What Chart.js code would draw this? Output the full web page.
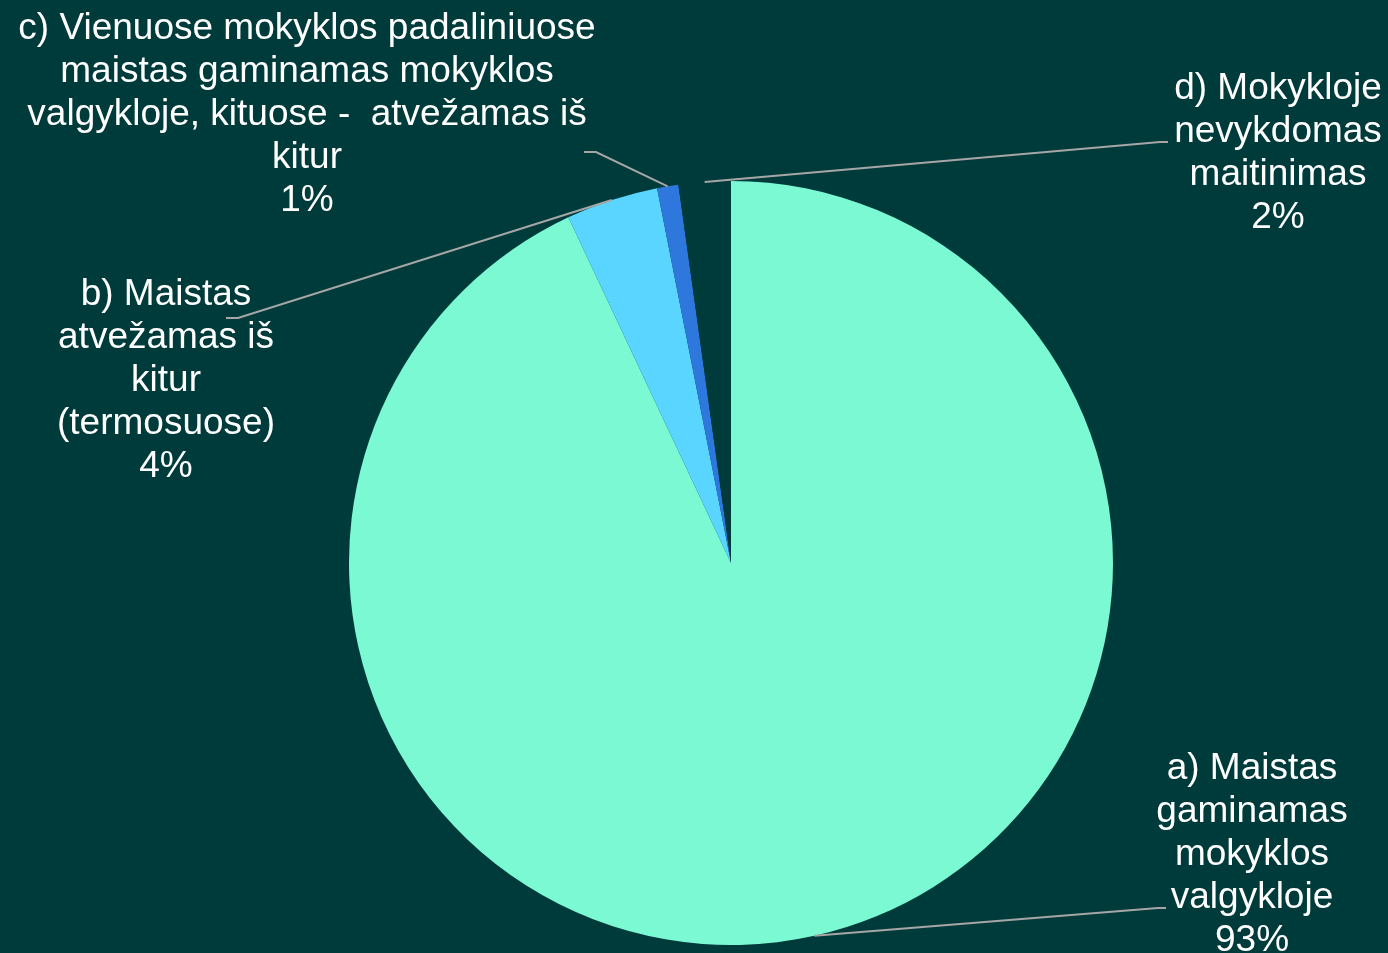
<!DOCTYPE html>
<html>
<head>
<meta charset="utf-8">
<script src="https://cdn.jsdelivr.net/npm/chart.js@4/dist/chart.umd.min.js"></script>
<style>
    html, body { margin: 0; padding: 0; background: #003b3b; }
    #wrap { width: 1388px; height: 953px; position: relative; }
</style>
</head>
<body>
<div id="wrap"><canvas id="chart-pie"></canvas></div>
<script>
(function () {
    'use strict';

    const categories = [
        ['a) Maistas', 'gaminamas', 'mokyklos', 'valgykloje'],
        ['b) Maistas', 'atvežamas iš', 'kitur', '(termosuose)'],
        ['c) Vienuose mokyklos padaliniuose', 'maistas gaminamas mokyklos', 'valgykloje, kituose -  atvežamas iš', 'kitur'],
        ['d) Mokykloje', 'nevykdomas', 'maitinimas'],
    ];
    const shares = [93.0, 3.9, 0.9, 2.2];

    const colors = ['#7af9d3', '#5ad5ff', '#2e78dd', '#003b3b'];

    // label text centre + elbow of the leader line
    const labelPos = [
        { x: 1252, y: 769, elbow: [1158, 908], end: [1166, 908] },
        { x: 166,  y: 295, elbow: [238, 318],  end: [226, 318] },
        { x: 307,  y: 29,  elbow: [596, 152],  end: [584, 152] },
        { x: 1278, y: 89,  elbow: [1160, 142], end: [1168, 142] },
    ];

    const FONT = '37px "Liberation Sans", Arial, sans-serif';
    const LINE_H = 43;

    const calloutPlugin = {
        id: 'callouts',
        afterDatasetsDraw(chart) {
            const ctx = chart.ctx;
            const meta = chart.getDatasetMeta(0);
            const total = shares.reduce((s, v) => s + v, 0);
            ctx.save();
            meta.data.forEach((arc, i) => {
                const p = labelPos[i];
                const mid = (arc.startAngle + arc.endAngle) / 2;
                const sx = arc.x + Math.cos(mid) * arc.outerRadius;
                const sy = arc.y + Math.sin(mid) * arc.outerRadius;

                ctx.strokeStyle = '#a6a6a6';
                ctx.lineWidth = 2;
                ctx.beginPath();
                ctx.moveTo(sx, sy);
                ctx.lineTo(p.elbow[0], p.elbow[1]);
                ctx.lineTo(p.end[0], p.end[1]);
                ctx.stroke();

                const lines = categories[i].concat([Math.round(shares[i] / total * 100) + '%']);
                ctx.fillStyle = '#ffffff';
                ctx.font = FONT;
                ctx.textAlign = 'center';
                ctx.textBaseline = 'middle';
                lines.forEach((t, k) => ctx.fillText(t, p.x, p.y + k * LINE_H));
            });
            ctx.restore();
        },
    };

    new Chart(document.getElementById('chart-pie'), {
        type: 'pie',
        data: {
            labels: categories.map(c => c.join(' ')),
            datasets: [{
                data: shares,
                backgroundColor: colors,
                borderWidth: 0,
            }],
        },
        options: {
            responsive: true,
            maintainAspectRatio: false,
            animation: false,
            layout: { padding: { top: 181, bottom: 8, left: 349, right: 275 } },
            plugins: {
                legend: { display: false },
                tooltip: { enabled: false },
            },
        },
        plugins: [calloutPlugin],
    });
})();
</script>
</body>
</html>
